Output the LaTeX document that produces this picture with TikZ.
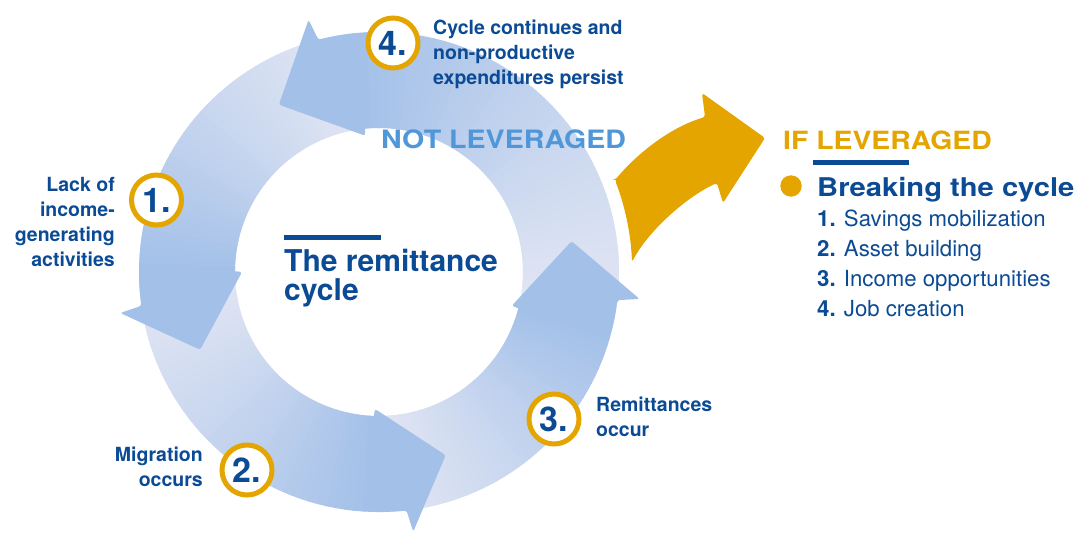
\documentclass[tikz,border=0pt]{standalone}
\usepackage{fontspec}
\setmainfont{TeX Gyre Heros}
\newfontfamily\widefont[FakeStretch=1.13]{TeX Gyre Heros}
\usetikzlibrary{calc}
\definecolor{darkblue}{HTML}{0B4A94}
\definecolor{lightblue}{HTML}{4F97D8}
\definecolor{gold}{HTML}{E5A500}
\definecolor{ringpale}{HTML}{E3E6F4}
\definecolor{ringblue}{HTML}{A2C0E8}

\begin{document}
\begin{tikzpicture}[x=1pt,y=1pt,
    num/.style={circle,draw=gold,line width=5pt,fill=white,minimum size=50pt,inner sep=0pt,font=\fontsize{34}{34}\selectfont\bfseries,text=darkblue},
    note/.style={inner sep=0pt,font=\fontsize{19.5}{25}\selectfont\bfseries,text=darkblue},
    item/.style={anchor=base west,inner sep=0pt,font=\fontsize{22.2}{26}\selectfont,text=darkblue}]
    \useasboundingbox (0,0) rectangle (1080,-533);
    \clip (0,0) rectangle (1080,-533);
    \coordinate (C) at (379,-272);

    % ring
    \fill[ringpale,even odd rule] (C) circle[radius=240] (C) circle[radius=144];
    \foreach \s/\e in {95.8/180, 180/268.3, 268.3/345.7, 345.7/455.8}{
        \foreach \k in {1,...,40}{
            \pgfmathsetmacro\a{\s+(\e-\s)*(\k-1)/40}
            \pgfmathsetmacro\b{\s+(\e-\s)*\k/40+0.3}
            \pgfmathsetmacro\pct{100*((\k-0.5)/40)^1.2}
            \fill[ringblue!\pct!ringpale] ($(C)+(\a:240)$) arc[start angle=\a,end angle=\b,radius=240]
                -- ($(C)+(\b:144)$) arc[start angle=\b,end angle=\a,radius=144] -- cycle;
        }
    }
    % arrow heads
    \foreach \i/\o/\t in {180/189/203.5, 268.3/277.5/290, 345.7/354.1/369.1, 455.8/465.6/480.9}{
        \pgfmathsetmacro\bo{\i+0.9*(\o-\i)}
        \fill[ringblue,rounded corners=2.5pt] ($(C)+(\i-0.3:144)$) -- ($(C)+(\i:137)$) -- ($(C)+(\t:195)$)
            -- ($(C)+(\o:262)$) -- ($(C)+(\bo:240)$) arc[start angle=\bo,end angle=\i-0.3,radius=240] -- cycle;
    }

    % leverage arrow
    \fill[gold,rounded corners=2.5pt] (615,-180) .. controls (635,-156) and (668,-128) .. (705,-117)
        -- (702,-93) -- (765,-138) -- (723,-203) -- (717,-183)
        .. controls (690,-195) and (650,-228) .. (632,-262)
        arc[start angle=2.3,end angle=21.3,radius=254] -- cycle;

    \node[num] (c1) at (156.5,-200) {1.};
    \node[num] (c2) at (247,-470) {2.};
    \node[num] (c3) at (554,-419) {3.};
    \node[num] (c4) at (393,-43) {4.};

    \node[note,align=right,anchor=east] (t1) at (115,-221.5) {Lack of\\income-\\generating\\activities};
    \node[note,align=right,anchor=east] (t2) at (203,-466.5) {Migration\\occurs};
    \node[note,align=left,anchor=west] (t3) at (596,-416.5) {Remittances\\occur};
    \node[note,align=left,anchor=west] (t4) at (433,-54) {Cycle continues and\\non-productive\\expenditures persist};

    \fill[darkblue] (284,-235) rectangle (381,-240);
    \node[anchor=west,inner sep=0pt,align=left,font=\fontsize{30}{28.3}\selectfont\bfseries,text=darkblue] (title) at (284,-278.2) {The remittance\\cycle};

    \node[anchor=west,inner sep=0pt,font=\widefont\fontsize{25.3}{30}\selectfont\bfseries,text=lightblue] (notlev) at (381,-139) {NOT LEVERAGED};
    \node[anchor=west,inner sep=0pt,font=\widefont\fontsize{25.1}{30}\selectfont\bfseries,text=gold] (iflev) at (783,-140) {IF LEVERAGED};
    \fill[darkblue] (813,-160) rectangle (909,-165);
    \fill[gold] (791,-186) circle[radius=10.7];
    \node[anchor=base west,inner sep=0pt,font=\widefont\fontsize{25.8}{30}\selectfont\bfseries,text=darkblue] (brk) at (817,-196) {Breaking the cycle};

    \node[item] (i1) at (817,-226.7) {\textbf{1.} Savings mobilization};
    \node[item] (i2) at (817,-256.7) {\textbf{2.} Asset building};
    \node[item] (i3) at (817,-286.7) {\textbf{3.} Income opportunities};
    \node[item] (i4) at (817,-316.7) {\textbf{4.} Job creation};
\end{tikzpicture}
\end{document}
